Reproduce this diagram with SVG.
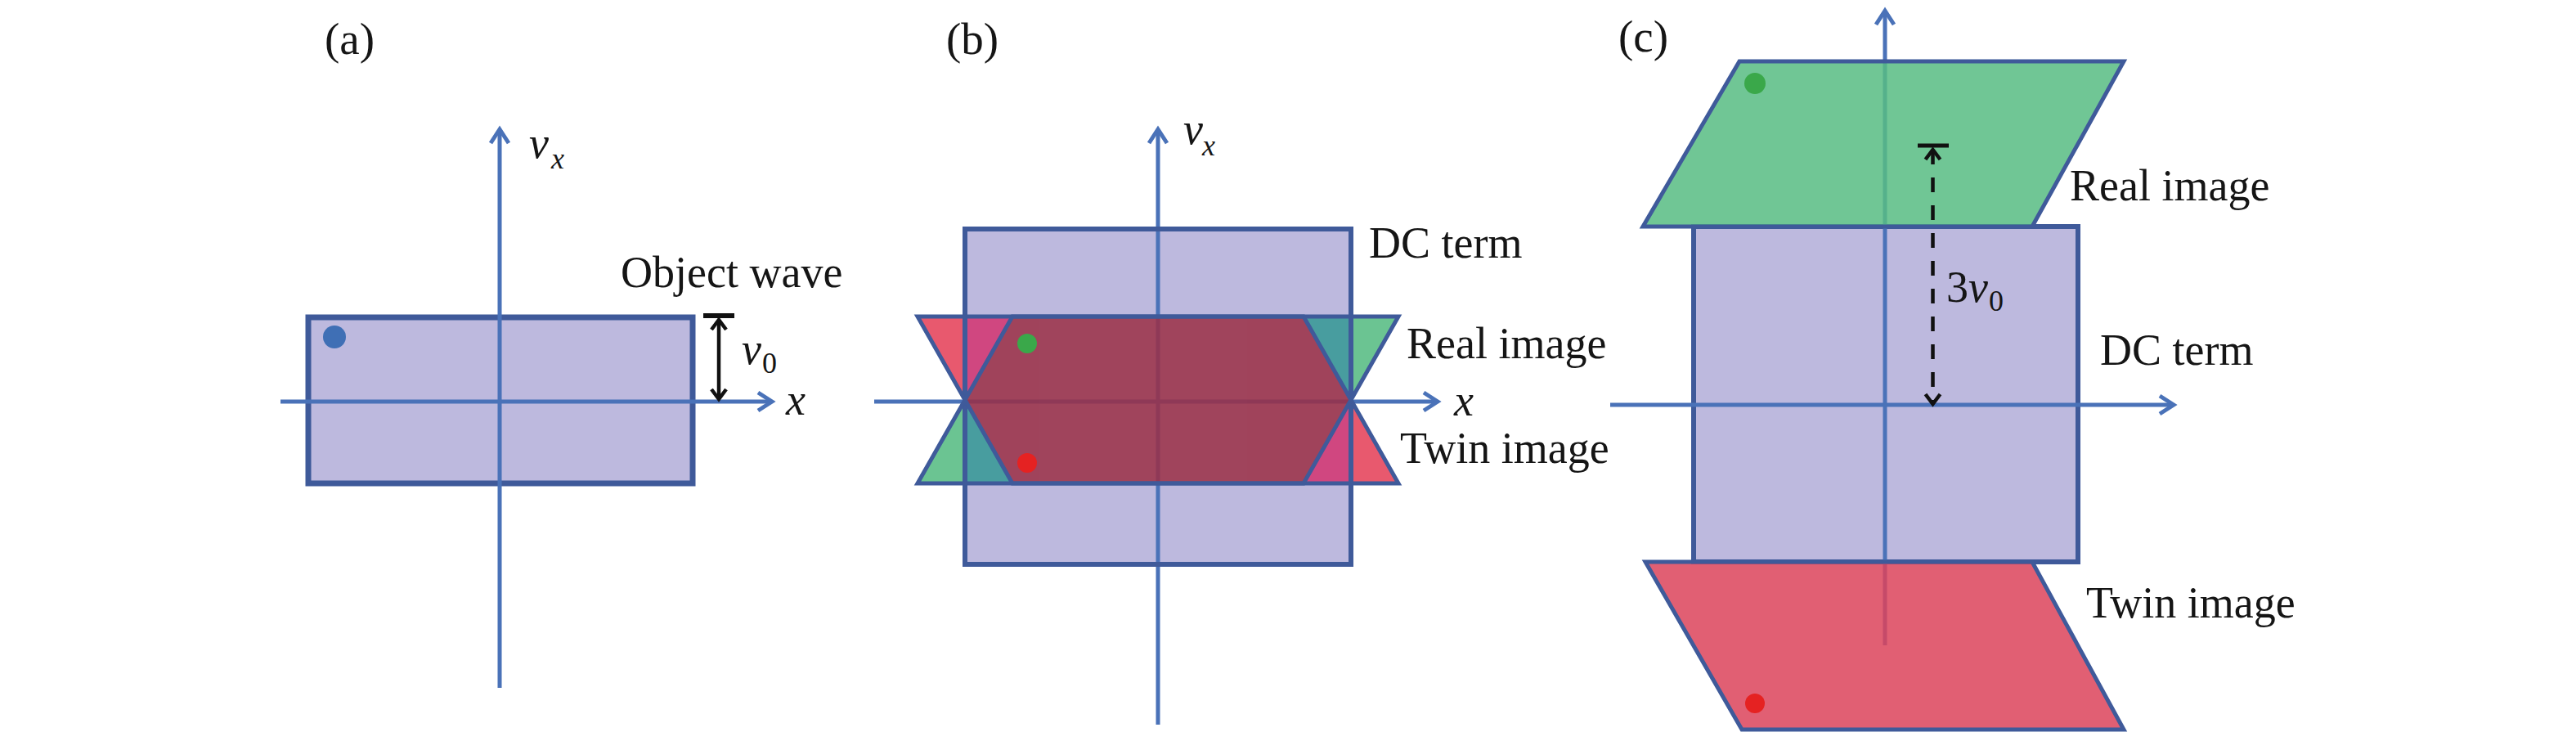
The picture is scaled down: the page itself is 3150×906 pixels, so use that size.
<svg xmlns="http://www.w3.org/2000/svg" width="3150" height="906" viewBox="0 0 3150 906">
<defs>
<style>
.lbl{font-family:"Liberation Serif","Times New Roman",serif;font-size:54px;fill:#151515}
.it{font-style:italic}
.sub{font-size:36px}
.ax{stroke:#4a72b8;stroke-width:5;fill:none;marker-end:url(#ah)}
.dc{fill:#bdb9de;stroke:#3f5a9a;stroke-width:6}
.ol{fill:none;stroke:#3f5a9a;stroke-width:5;stroke-linejoin:miter}
.dim{stroke:#111;stroke-width:4.5;fill:none;marker-start:url(#ahk);marker-end:url(#ahk)}
.bar{stroke:#111;stroke-width:6}
.reg{opacity:0.85}
</style>
<marker id="ah" markerUnits="userSpaceOnUse" viewBox="-24 -16 28 32" markerWidth="28" markerHeight="32" refX="0" refY="0" orient="auto" overflow="visible">
<path d="M-17,-11 L0,0 L-17,11" fill="none" stroke="#4a72b8" stroke-width="5"/>
</marker>
<marker id="ahk" markerUnits="userSpaceOnUse" viewBox="-18 -12 22 24" markerWidth="22" markerHeight="24" refX="0" refY="0" orient="auto-start-reverse" overflow="visible">
<path d="M-12,-9 L0,0 L-12,9" fill="none" stroke="#111" stroke-width="4.5"/>
</marker>
</defs>
<rect width="3150" height="906" fill="#ffffff"/>

<!-- panel labels -->
<text class="lbl" x="397" y="66" style="font-size:55px">(a)</text>
<text class="lbl" x="1157" y="66" style="font-size:55px">(b)</text>
<text class="lbl" x="1979" y="63" style="font-size:55px">(c)</text>

<!-- base nodes (DC / object rectangles) -->
<g id="a-object-wave">
<rect class="dc" x="377" y="388" width="470" height="203" style="stroke-width:7"/>
</g>
<g id="b-dc-term">
<rect x="1180" y="280" width="472" height="410" fill="#bdb9de"/>
</g>
<g id="c-dc-term">
<rect class="dc" x="2071" y="277" width="470" height="410"/>
</g>

<!-- axes -->
<g id="connectors">
<path class="ax" d="M611,841 L611,158"/>
<path class="ax" d="M343,491 L944,491"/>
<path class="ax" d="M1416,886 L1416,158"/>
<path class="ax" d="M1069,491 L1758,491"/>
<path class="ax" d="M2305,789 L2305,13"/>
<path class="ax" d="M1969,495 L2658,495"/>
</g>

<g id="a-dot">
<circle cx="409" cy="412" r="14" fill="#3f6fb5"/>
</g>

<!-- panel (b) overlapping real / twin images -->
<g id="b-images">
<g class="reg">
<polygon points="1122,387 1180,387 1180,489" fill="#e43d55"/>
<polygon points="1180,387 1238,387 1180,489" fill="#d43470"/>
<polygon points="1652,387 1710,387 1652,489" fill="#52ba7f"/>
<polygon points="1594,387 1652,387 1652,489" fill="#349995"/>
<polygon points="1122,591 1180,591 1180,489" fill="#52ba7f"/>
<polygon points="1180,591 1238,591 1180,489" fill="#349995"/>
<polygon points="1652,591 1710,591 1652,489" fill="#e43d55"/>
<polygon points="1594,591 1652,591 1652,489" fill="#d43470"/>
<polygon points="1238,387 1594,387 1652,489 1594,591 1238,591 1180,489" fill="#9b2f45"/>
</g>
<rect class="ol" x="1180" y="280" width="472" height="410" style="stroke-width:6"/>
<g id="b-twin-image">
<polygon class="ol" points="1122,387 1594,387 1710,591 1238,591"/>
<circle cx="1256" cy="566" r="12" fill="#e52222"/>
</g>
<g id="b-real-image">
<polygon class="ol" points="1238,387 1710,387 1594,591 1122,591"/>
<circle cx="1256" cy="420" r="12" fill="#3aa84a"/>
</g>
</g>

<!-- panel (c) -->
<g id="c-real-image">
<polygon points="2127,75 2597,75 2485,277 2009,277" fill="#57bc83" fill-opacity="0.85"/>
<polygon class="ol" points="2127,75 2597,75 2485,277 2009,277"/>
<circle cx="2146" cy="102" r="13" fill="#3aa84a"/>
</g>
<g id="c-twin-image">
<polygon points="2012,687 2485,687 2597,892 2130,892" fill="#dc435a" fill-opacity="0.85"/>
<polygon class="ol" points="2012,687 2485,687 2597,892 2130,892"/>
<circle cx="2146" cy="860" r="12" fill="#e52222"/>
</g>

<!-- dimension arrows -->
<g id="connectors-dim">
<path class="bar" d="M860,386 L898,386"/>
<path class="dim" d="M879,391 L879,488"/>
<path class="bar" d="M2345,178 L2383,178" style="stroke-width:5"/>
<path class="dim" d="M2363.5,183 L2363.5,494" stroke-dasharray="18 16"/>
</g>

<!-- labels -->
<g id="labels">
<text class="lbl" x="647" y="193"><tspan class="it">v</tspan><tspan class="it sub" dx="3" dy="13">x</tspan></text>
<text class="lbl" x="759" y="351">Object wave</text>
<text class="lbl" x="907" y="445"><tspan class="it">v</tspan><tspan class="sub" dx="1" dy="11">0</tspan></text>
<text class="lbl it" x="961" y="507">x</text>

<text class="lbl" x="1447" y="176"><tspan class="it">v</tspan><tspan class="it sub" dx="-1" dy="14">x</tspan></text>
<text class="lbl" x="1674" y="315">DC term</text>
<text class="lbl" x="1720" y="438">Real image</text>
<text class="lbl it" x="1778" y="508">x</text>
<text class="lbl" x="1712" y="566">Twin image</text>

<text class="lbl" x="2380" y="369">3<tspan class="it">v</tspan><tspan class="sub" dx="1" dy="11">0</tspan></text>
<text class="lbl" x="2531" y="245">Real image</text>
<text class="lbl" x="2568" y="446">DC term</text>
<text class="lbl" x="2551" y="755">Twin image</text>
</g>
</svg>
